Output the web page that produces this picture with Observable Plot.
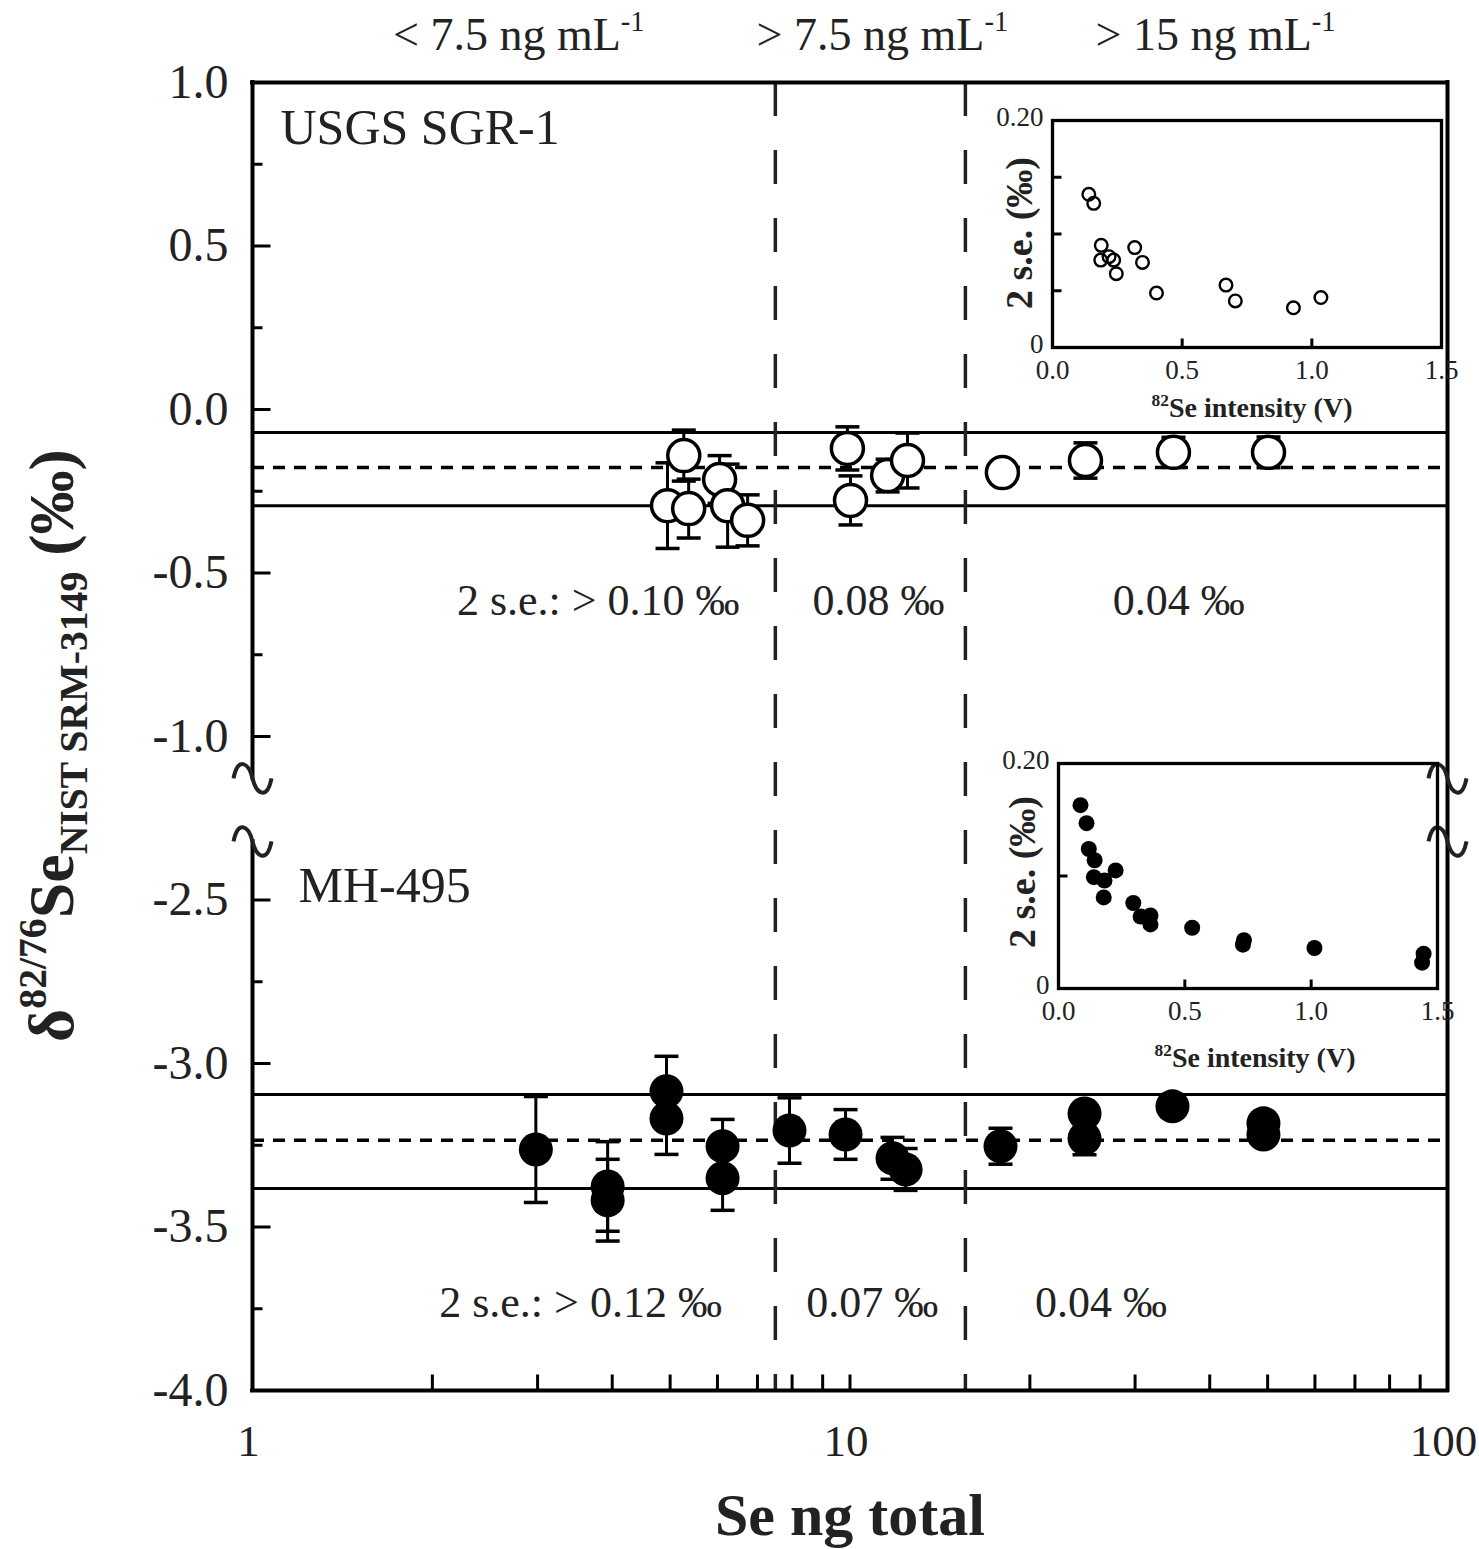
<!DOCTYPE html>
<html><head><meta charset="utf-8">
<script src="https://cdn.jsdelivr.net/npm/d3@7"></script>
<script src="https://cdn.jsdelivr.net/npm/@observablehq/plot@0.6"></script>
<style>
body{margin:0;background:#fff;}
#wrap{position:relative;width:1479px;height:1549px;background:#fff;}
#wrap svg{position:absolute;}
</style></head><body><div id="wrap"></div>
<script>
const FONT = '"Liberation Serif","Times New Roman",Times,serif';

// ---------- DATA ----------
// USGS SGR-1 (open circles): Se ng total, δ82/76Se (‰), 2 s.e. (‰)
const sgrTotal = [4.95, 5.27, 5.37, 6.05, 6.24, 6.74, 9.90, 10.02, 11.56, 12.48, 17.99, 24.78, 34.78, 50.17];
const sgrDelta = [-0.294, -0.141, -0.303, -0.214, -0.294, -0.339, -0.119, -0.278, -0.202, -0.156, -0.193, -0.156, -0.131, -0.131];
const sgrErr   = [0.131, 0.078, 0.090, 0.073, 0.127, 0.078, 0.066, 0.075, 0.050, 0.084, 0.030, 0.054, 0.046, 0.047];
const sgrMean = -0.177, sgrHi = -0.070, sgrLo = -0.294;

// MH-495 (filled circles)
const mhTotal = [2.98, 3.93, 3.93, 4.93, 4.93, 6.12, 6.12, 7.92, 9.83, 11.78, 12.39, 17.86, 24.69, 24.69, 34.65, 49.2, 49.2];
const mhDelta = [-3.263, -3.376, -3.418, -3.085, -3.168, -3.253, -3.351, -3.205, -3.217, -3.290, -3.324, -3.253, -3.153, -3.229, -3.131, -3.183, -3.217];
const mhErr   = [0.162, 0.137, 0.125, 0.107, 0.110, 0.082, 0.098, 0.100, 0.076, 0.064, 0.064, 0.055, 0.030, 0.050, 0.030, 0.030, 0.030];
const mhMean = -3.235, mhHi = -3.095, mhLo = -3.382;

// concentration zones
const zoneBounds = [7.5, 15.6];
const zoneLabels = ["< 7.5 ng mL^{-1}", "> 7.5 ng mL^{-1}", "> 15 ng mL^{-1}"];
const sgrSeLabels = ["2 s.e.: > 0.10 ‰", "0.08 ‰", "0.04 ‰"];
const mhSeLabels  = ["2 s.e.: > 0.12 ‰", "0.07 ‰", "0.04 ‰"];

// axis ticks (y in displayed units; the lower panel is shifted by the axis break)
const breakShift = 1.0;                 // MH-495 values are drawn +1.0 ‰ higher
const yMajor = [1, 0.5, 0, -0.5, -1, -1.5, -2, -2.5, -3];
const yMinor = [0.75, 0.25, -0.25, -0.75, -1.75, -2.25, -2.75];
const xTickLabels = [1, 10, 100];
const xMinor = [2,3,4,5,6,7,8,9,10,20,30,40,50,60,70,80,90];
const breakMarks = [-1.128, -1.321];

// insets: 82Se intensity (V) vs 2 s.e. (‰)
const inSgrV  = [0.140, 0.159, 0.188, 0.186, 0.218, 0.236, 0.246, 0.317, 0.347, 0.401, 0.669, 0.705, 0.929, 1.035];
const inSgrSe = [0.135, 0.127, 0.090, 0.077, 0.080, 0.077, 0.065, 0.088, 0.075, 0.048, 0.055, 0.041, 0.035, 0.044];
const inMhV   = [0.087, 0.111, 0.120, 0.143, 0.140, 0.182, 0.179, 0.226, 0.296, 0.325, 0.364, 0.364, 0.529, 0.734, 0.730, 1.013, 1.445, 1.439];
const inMhSe  = [0.163, 0.147, 0.124, 0.114, 0.099, 0.096, 0.081, 0.105, 0.076, 0.064, 0.065, 0.057, 0.054, 0.043, 0.039, 0.036, 0.031, 0.023];

// ---------- helpers ----------
const sym = (fn) => ({draw(ctx, size){ fn(ctx, Math.sqrt(size / Math.PI)); }});
const hcap = sym((c, r) => { c.moveTo(-r, 0); c.lineTo(r, 0); });
const tickUp = sym((c, r) => { c.moveTo(0, 0); c.lineTo(0, -r); });
const tickRight = sym((c, r) => { c.moveTo(0, 0); c.lineTo(r, 0); });
const squiggle = sym((c, r) => { const s = r / 18;
  c.moveTo(-18*s, 0); c.bezierCurveTo(-14*s, -20*s, -4*s, -16*s, 0, 0);
  c.bezierCurveTo(4*s, 16*s, 14*s, 20*s, 18*s, 0); });

const sgr = sgrTotal.map((x, i) => ({x, y: sgrDelta[i], e: sgrErr[i]}));
const mh = mhTotal.map((x, i) => ({x, y: mhDelta[i] + breakShift, e: mhErr[i]}));
const fmtY = v => (v >= -1 ? v : v - breakShift).toFixed(1);
const T = {textAnchor: "middle", lineAnchor: "middle", fill: "#222"};

function rich(svg) {
  d3.select(svg).selectAll("text").each(function() {
    const el = this, s = el.textContent;
    if (!/[\^_]\{/.test(s)) return;
    const base = parseFloat(getComputedStyle(el).fontSize) || 16;
    while (el.firstChild) el.removeChild(el.firstChild);
    const parts = s.split(/([\^_]\{[^}]*\})/).filter(p => p.length);
    let cur = 0;
    for (const p of parts) {
      const ts = document.createElementNS("http://www.w3.org/2000/svg", "tspan");
      let target = 0, txt = p, small = false;
      if (p.startsWith("^{")) { target = -0.42 * base; txt = p.slice(2, -1); small = true; }
      else if (p.startsWith("_{")) { target = 0.22 * base; txt = p.slice(2, -1); small = true; }
      if (small) ts.setAttribute("font-size", (0.62 * base) + "px");
      if (target !== cur) ts.setAttribute("dy", (target - cur) + "px");
      cur = target;
      ts.textContent = txt;
      el.appendChild(ts);
    }
  });
}

const wrap = document.getElementById("wrap");
const line = {stroke: "black"};

// ---------- main chart ----------
const main = Plot.plot({
  width: 1479, height: 1549,
  marginLeft: 252, marginRight: 32, marginTop: 82, marginBottom: 159,
  x: {type: "log", domain: [1, 100], axis: null},
  y: {domain: [-3, 1], axis: null},
  style: {fontFamily: FONT, background: "white", color: "black", overflow: "visible"},
  marks: [
    // reference bands
    Plot.ruleY([sgrHi, sgrLo, mhHi + breakShift, mhLo + breakShift], {...line, strokeWidth: 3}),
    Plot.ruleY([sgrMean, mhMean + breakShift], {...line, strokeWidth: 3.5, strokeDasharray: "12,9"}),
    Plot.ruleX(zoneBounds, {stroke: "#222", strokeWidth: 3.5, strokeDasharray: "34,34"}),
    // frame (left axis broken)
    Plot.ruleY([1, -3], {...line, strokeWidth: 4, strokeLinecap: "square"}),
    Plot.ruleX([100], {...line, strokeWidth: 4, strokeLinecap: "square"}),
    Plot.ruleX([1], {y1: 1, y2: breakMarks[0], ...line, strokeWidth: 4, strokeLinecap: "square"}),
    Plot.ruleX([1], {y1: breakMarks[1], y2: -3, ...line, strokeWidth: 4, strokeLinecap: "square"}),
    Plot.dot(breakMarks, {y: d => d, frameAnchor: "left", symbol: squiggle, r: 19, stroke: "#222", strokeWidth: 4, fill: "none"}),
    Plot.dot(breakMarks, {y: d => d, frameAnchor: "right", symbol: squiggle, r: 19, stroke: "#222", strokeWidth: 4, fill: "none"}),
    // inward ticks
    Plot.dot(xMinor, {x: d => d, frameAnchor: "bottom", symbol: tickUp, r: 16, ...line, strokeWidth: 3, fill: "none"}),
    Plot.dot(yMajor, {y: d => d, frameAnchor: "left", symbol: tickRight, r: 18, ...line, strokeWidth: 3, fill: "none"}),
    Plot.dot(yMinor, {y: d => d, frameAnchor: "left", symbol: tickRight, r: 10, ...line, strokeWidth: 3, fill: "none"}),
    // axes labels
    Plot.axisY({ticks: yMajor, tickSize: 0, tickPadding: 24, tickFormat: fmtY, fontSize: 48, label: null, fill: "#222"}),
    Plot.axisX({ticks: xTickLabels, tickSize: 0, tickPadding: 34, tickFormat: d => String(d), fontSize: 45, dx: -4, label: null, fill: "#222"}),
    // SGR-1
    Plot.ruleX(sgr, {x: "x", y1: d => d.y - d.e, y2: d => d.y + d.e, ...line, strokeWidth: 3}),
    Plot.dot(sgr, {x: "x", y: d => d.y - d.e, symbol: hcap, r: 12, ...line, strokeWidth: 3.5, fill: "none"}),
    Plot.dot(sgr, {x: "x", y: d => d.y + d.e, symbol: hcap, r: 12, ...line, strokeWidth: 3.5, fill: "none"}),
    Plot.dot(sgr, {x: "x", y: "y", r: 16, fill: "white", ...line, strokeWidth: 3.5}),
    // MH-495
    Plot.ruleX(mh, {x: "x", y1: d => d.y - d.e, y2: d => d.y + d.e, ...line, strokeWidth: 3}),
    Plot.dot(mh, {x: "x", y: d => d.y - d.e, symbol: hcap, r: 12, ...line, strokeWidth: 3.5, fill: "none"}),
    Plot.dot(mh, {x: "x", y: d => d.y + d.e, symbol: hcap, r: 12, ...line, strokeWidth: 3.5, fill: "none"}),
    Plot.dot(mh, {x: "x", y: "y", r: 17, fill: "black", stroke: "none"}),
    // annotations
    Plot.text(["USGS SGR-1"], {...T, frameAnchor: "top-left", dx: 28, dy: 45, textAnchor: "start", fontSize: 50}),
    Plot.text(["MH-495"], {...T, frameAnchor: "top-left", dx: 46, dy: 803, textAnchor: "start", fontSize: 50}),
    Plot.text(sgrSeLabels, {...T, x: (d, i) => [3.79, 11.16, 35.5][i], y: -0.584, fontSize: 44}),
    Plot.text(mhSeLabels, {...T, x: (d, i) => [3.54, 10.9, 26.3][i], y: -2.731, fontSize: 44}),
    Plot.text(zoneLabels, {...T, x: (d, i) => [2.79, 11.33, 40.9][i], frameAnchor: "top", dy: -47, fontSize: 46}),
    Plot.text(["Se ng total"], {...T, frameAnchor: "bottom", dy: 125, fontSize: 60, fontWeight: "bold"}),
    Plot.text(["δ^{82/76}Se_{NIST SRM-3149} (‰)"], {...T, frameAnchor: "left", rotate: -90, dx: -200, dy: 9, fontSize: 64, fontWeight: "bold"})
  ]
});
main.style.left = "0px"; main.style.top = "0px";
wrap.appendChild(main);

// ---------- insets ----------
function inset(V, S, filled, opt) {
  const data = V.map((v, i) => ({v, s: S[i]}));
  const p = Plot.plot({
    width: 470, height: opt.height,
    marginLeft: opt.ml, marginRight: opt.mr, marginTop: 20, marginBottom: opt.mb,
    x: {domain: [0, 1.5], axis: null},
    y: {domain: [0, 0.2], axis: null},
    style: {fontFamily: FONT, background: "transparent", color: "black", overflow: "visible"},
    marks: [
      Plot.frame({stroke: "black", strokeWidth: 3.3}),
      Plot.dot([0.5, 1.0], {x: d => d, frameAnchor: "bottom", symbol: tickUp, r: 9, ...line, strokeWidth: 3, fill: "none"}),
      Plot.dot(opt.yticks, {y: d => d, frameAnchor: "left", symbol: tickRight, r: 9, ...line, strokeWidth: 3, fill: "none"}),
      Plot.axisX({ticks: [0, 0.5, 1, 1.5], tickSize: 0, tickPadding: 12, tickFormat: d => d.toFixed(1), fontSize: 27, label: null, fill: "#222"}),
      Plot.axisY({ticks: [0, 0.2], tickSize: 0, tickPadding: 9, dy: -3, tickFormat: d => d === 0 ? "0" : d.toFixed(2), fontSize: 27, label: null, fill: "#222"}),
      filled
        ? Plot.dot(data, {x: "v", y: "s", r: 8, fill: "black", stroke: "none"})
        : Plot.dot(data, {x: "v", y: "s", r: 6.3, fill: "none", ...line, strokeWidth: 2.4}),
      Plot.text(["^{82}Se intensity (V)"], {...T, frameAnchor: "bottom", dx: opt.lx, dy: opt.ly, fontSize: 28, fontWeight: "bold"}),
      Plot.text(["2 s.e. (‰)"], {...T, frameAnchor: "left", rotate: -90, dx: opt.yx, dy: opt.yy, fontSize: 38, fontWeight: "bold"})
    ]
  });
  p.style.left = opt.left + "px"; p.style.top = opt.top + "px";
  wrap.appendChild(p);
  return p;
}
const in1 = inset(inSgrV, inSgrSe, false, {left: 985, top: 100, height: 330, ml: 67, mr: 14, mb: 83, yticks: [0.05, 0.1, 0.15], lx: 5, ly: 61, yx: -33, yy: -1});
const in2 = inset(inMhV, inMhSe, true, {left: 985, top: 743, height: 335, ml: 73, mr: 18, mb: 90, yticks: [0.1], lx: 7, ly: 70, yx: -36, yy: -4});

rich(main); rich(in1); rich(in2);
</script></body></html>
